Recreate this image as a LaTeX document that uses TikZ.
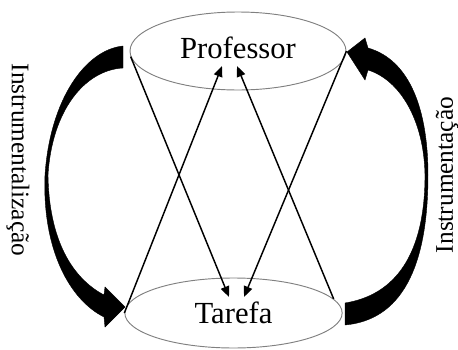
\documentclass[tikz,border=0pt]{standalone}
\usepackage{fontspec}
\setmainfont{Liberation Serif}
\usetikzlibrary{arrows.meta, shapes.geometric, positioning}

\begin{document}
\begin{tikzpicture}[x=0.75pt, y=-0.75pt,
    actor/.style={draw=gray, shape=ellipse, line width=0.7pt, inner sep=0pt, font=\fontsize{23}{27}\selectfont},
    sidetext/.style={inner sep=0pt, font=\fontsize{19}{22}\selectfont},
    linkarrow/.style={-{Triangle[length=8pt, width=6.5pt]}, line width=1.1pt},
    bigarrow/.style={fill=black, draw=black, line width=0.3pt}
]
        \useasboundingbox (0,0) rectangle (458,350);

        \node[actor, minimum width=162pt, minimum height=58.5pt, text depth=5pt, name=prof] at(238,51) {Professor};
        \node[actor, minimum width=163pt, minimum height=52.5pt, name=tar] at(233.5,313) {Tarefa};

        \node[sidetext, rotate=-90, name=instz] at(18,160) {Instrumentalização};
        \node[sidetext, rotate=90, name=instc] at(447,175) {Instrumentação};

        \coordinate (p1) at (222,66);
        \coordinate (p2) at (237,66);
        \coordinate (t1) at (229,297);
        \coordinate (t2) at (244,297);

        \draw[linkarrow] (prof.183) -- (t1);
        \draw[linkarrow] (tar.west) -- (p1);
        \draw[linkarrow] (prof.east) -- (t2);
        \draw[linkarrow] (tar.8) -- (p2);

        % curved arrows
        \path[bigarrow] (123,46) .. controls (85,50) and (50,100) .. (45,175)
            .. controls (42,250) and (70,300) .. (104,317)
            -- (105,327) -- (125,307) -- (105,287) -- (104,295)
            .. controls (72,278) and (49,240) .. (48,175)
            .. controls (52,110) and (85,70) .. (123,68) -- cycle;
        \path[bigarrow] (345,303) .. controls (395,295) and (425,255) .. (425,175)
            .. controls (424,120) and (400,80) .. (368,70)
            -- (365,80) -- (347,52) -- (365,38) -- (368,48)
            .. controls (410,60) and (428,110) .. (428,175)
            .. controls (428,270) and (400,320) .. (345,325) -- cycle;
    \end{tikzpicture}
\end{document}
